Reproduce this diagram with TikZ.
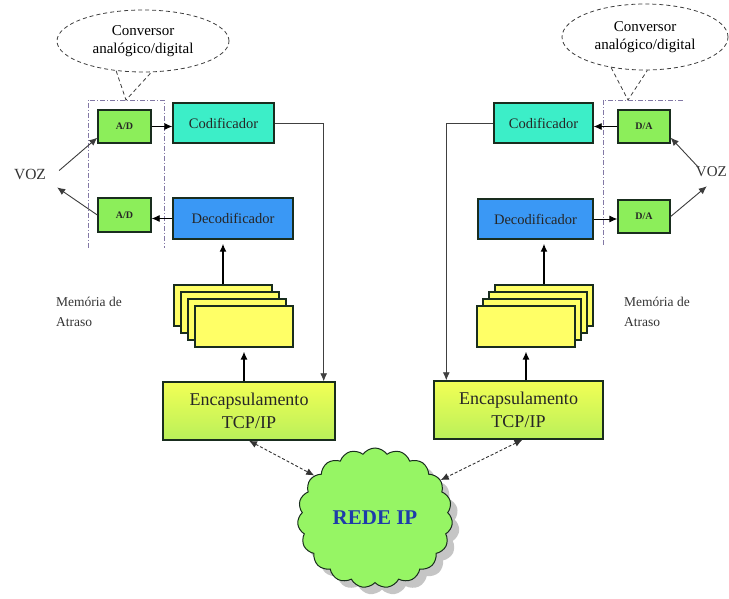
\documentclass[tikz,border=0pt]{standalone}
\usepackage{fontspec}
\setmainfont{Liberation Serif}
\usetikzlibrary{arrows.meta,shapes.symbols,shapes.geometric,shadows,calc}

\definecolor{convgreen}{RGB}{140,238,90}
\definecolor{codcyan}{RGB}{60,238,200}
\definecolor{decblue}{RGB}{58,152,245}
\definecolor{bufyellow}{RGB}{255,255,102}
\definecolor{encyellow}{RGB}{242,255,85}
\definecolor{encgreen}{RGB}{185,240,90}
\definecolor{cloudgreen}{RGB}{150,245,100}
\definecolor{edgedark}{RGB}{25,45,30}
\definecolor{guidecol}{RGB}{130,120,165}
\definecolor{netblue}{RGB}{30,60,170}
\definecolor{inkgray}{RGB}{60,60,60}

\newcommand\dgFont[2]{\fontsize{#1}{#2}\selectfont}

\begin{document}
\begin{tikzpicture}[x=1pt,y=-1pt,
  every node/.style={inner sep=1pt},
  blockbox/.style={draw=edgedark,line width=1.4pt,text=black!85},
  convbox/.style={blockbox,fill=convgreen,font=\dgFont{10}{12}\bfseries},
  coderbox/.style={blockbox,fill=codcyan,font=\dgFont{14.5}{16}},
  decoderbox/.style={blockbox,fill=decblue,font=\dgFont{14.5}{16}},
  bufbox/.style={draw=edgedark,line width=1.1pt,fill=bufyellow,minimum width=98,minimum height=41},
  encapbox/.style={blockbox,top color=encyellow,bottom color=encgreen,align=center,font=\dgFont{18}{23}},
  callout/.style={draw=inkgray,line width=0.8pt,dash pattern=on 4pt off 3pt},
  guideline/.style={draw=guidecol,line width=0.7pt,dash pattern=on 5pt off 2pt on 1pt off 2pt},
  plainlabel/.style={text=black!80,align=left},
  arr/.style={draw=black,line width=0.9pt,-{Latex[length=8pt,width=7pt]}},
  thickarr/.style={draw=black,line width=1.4pt,-{Latex[length=8pt,width=7pt]},shorten >=4pt},
  feedarr/.style={draw=black!75,line width=0.8pt,-{Latex[length=8pt,width=7pt]}},
  netarr/.style={draw=black!80,line width=0.9pt,densely dashed,{Latex[length=8pt,width=7pt]}-{Latex[length=8pt,width=7pt]}},
  voicearr/.style={draw=inkgray,line width=0.9pt,-{Latex[length=8pt,width=7pt]}}
]
\useasboundingbox (0,0) rectangle (729,599);

% ---------- left terminal ----------
\node[ellipse,callout,minimum width=172,minimum height=62,align=center,font=\dgFont{15}{18}]
  (ellL) at (143,41) {Conversor\\analógico/digital};
\coordinate (tipL) at (126,100);
\draw[callout] (ellL.-132) -- (tipL) -- (ellL.-75);
\draw[guideline] (88,248) -- (88,100) -- (164,100) -- (164,248);

\node[convbox,minimum width=53,minimum height=33] (adL) at (124.5,126.5) {A/D};
\node[convbox,minimum width=53,minimum height=34] (daL) at (124.5,215) {A/D};
\node[coderbox,minimum width=101,minimum height=40] (codL) at (223.5,123) {Codificador};
\node[decoderbox,minimum width=120,minimum height=41] (decL) at (233,218.5) {Decodificador};

\node[bufbox] (bufL1) at (223,305.5) {};
\node[bufbox] (bufL2) at (230,312.5) {};
\node[bufbox] (bufL3) at (237,319.5) {};
\node[bufbox] (bufL4) at (244,326.5) {};

\node[encapbox,minimum width=172,minimum height=58] (encL) at (249,411) {Encapsulamento\\TCP/IP};

\node[plainlabel,font=\dgFont{15.5}{18}] (vozL) at (30,174) {VOZ};
\node[plainlabel,anchor=west,font=\dgFont{13.5}{20}] (memL) at (55,312) {Memória de\\Atraso};

% ---------- right terminal ----------
\node[ellipse,callout,minimum width=166,minimum height=66,align=center,font=\dgFont{15}{18}]
  (ellR) at (645,37) {Conversor\\analógico/digital};
\coordinate (tipR) at (628,100);
\draw[callout] (ellR.-138) -- (tipR) -- (ellR.-86);
\draw[guideline] (603,245) -- (603,100) -- (683,100);

\node[convbox,minimum width=52,minimum height=33] (adR) at (644,126.5) {D/A};
\node[convbox,minimum width=52,minimum height=33] (daR) at (644,216.5) {D/A};
\node[coderbox,minimum width=99,minimum height=40] (codR) at (543.5,123) {Codificador};
\node[decoderbox,minimum width=115,minimum height=40] (decR) at (535.5,219) {Decodificador};

\node[bufbox] (bufR1) at (544,305.5) {};
\node[bufbox] (bufR2) at (538,312.5) {};
\node[bufbox] (bufR3) at (532,319.5) {};
\node[bufbox] (bufR4) at (526,326.5) {};

\node[encapbox,minimum width=169,minimum height=58] (encR) at (518.5,410) {Encapsulamento\\TCP/IP};

\node[plainlabel,anchor=east,font=\dgFont{15}{18}] (vozR) at (728,172) {VOZ};
\node[plainlabel,anchor=west,font=\dgFont{13.5}{20}] (memR) at (623,312) {Memória de\\Atraso};

% ---------- network ----------
\node[cloud,cloud puffs=19,cloud puff arc=110,aspect=1.1,draw=edgedark,line width=1pt,
  fill=cloudgreen,minimum width=155,minimum height=140,
  drop shadow={shadow xshift=7pt,shadow yshift=-7pt,fill=black!45},
  text=netblue,font=\dgFont{21}{24}\bfseries] (net) at (375,518) {REDE IP};

% ---------- connectors, left ----------
\draw[arr] (adL.east) -- (codL.west |- adL.east);
\draw[arr] (decL.west) -- (daL.east |- decL.west);
\draw[feedarr] (codL.east) -| ([xshift=-12pt]encL.north east);
\draw[thickarr] (bufL1.north) -- (bufL1.north |- decL.south);
\draw[thickarr] (encL.north -| bufL4.south) -- (bufL4.south);
\draw[voicearr] ([xshift=12pt,yshift=-3pt]vozL.north east) -- ([yshift=6pt]adL.south west);
\draw[voicearr] (daL.west) -- ([xshift=10pt,yshift=-7pt]vozL.south east);
\draw[netarr] (encL.south) -- (net.145);

% ---------- connectors, right ----------
\draw[arr] (adR.west) -- (codR.east |- adR.west);
\draw[arr] (decR.east) -- (daR.west |- decR.east);
\draw[feedarr] (codR.west) -| ([xshift=13pt]encR.north west);
\draw[thickarr] (bufR1.north) -- (bufR1.north |- decR.south);
\draw[thickarr] (encR.north -| bufR4.south) -- (bufR4.south);
\draw[voicearr] ([xshift=4pt,yshift=-2pt]vozR.north west) -- ([yshift=6pt]adR.south east);
\draw[voicearr] (daR.east) -- ([xshift=12pt,yshift=-8pt]vozR.south west);
\draw[netarr] ([xshift=4pt]encR.south) -- (net.30);
\end{tikzpicture}
\end{document}
